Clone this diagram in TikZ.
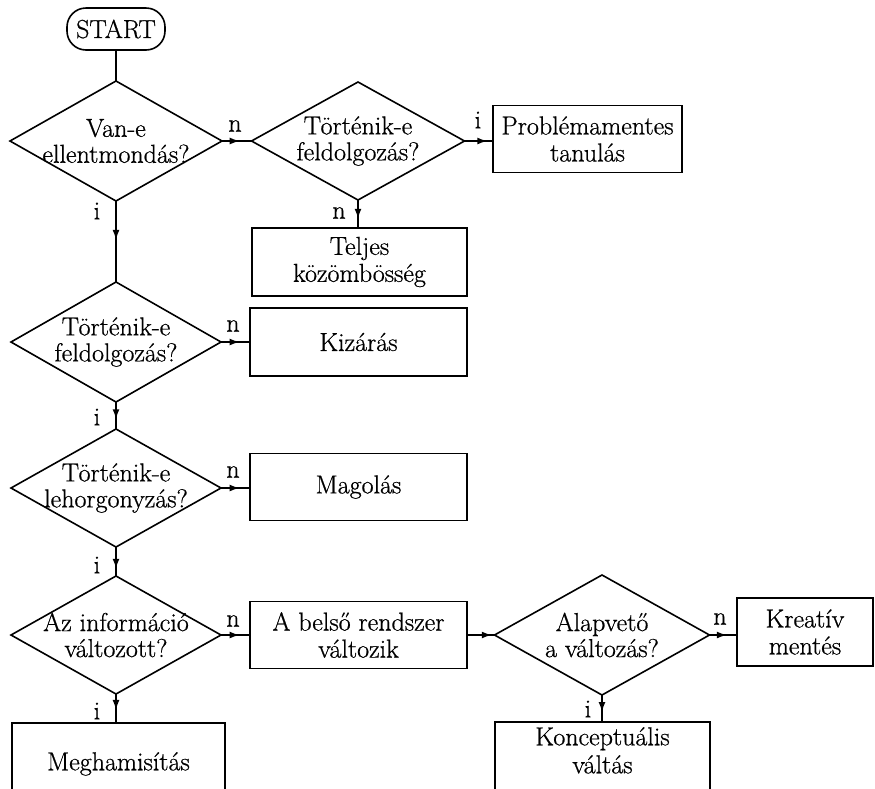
\documentclass[tikz,border=0pt]{standalone}
\usepackage{fontspec}
\setmainfont{Latin Modern Roman}[FakeBold=0.7]
\usetikzlibrary{shapes.geometric,decorations.markings,arrows.meta}
\begin{document}
\begin{tikzpicture}[x=1pt,y=-1pt,
  every node/.style={font=\fontsize{26}{27}\selectfont, text=black},
  dia/.style={draw, line width=1.6pt, diamond, inner sep=0pt, outer sep=0pt},
  box/.style={draw, line width=1.6pt, rectangle, inner sep=0pt, outer sep=0pt, align=center},
  txt/.style={align=center, inner sep=0pt, font=\fontsize{26}{26}\selectfont},
  plain/.style={line width=1.6pt},
  flow/.style={line width=1.6pt, postaction={decorate},
    decoration={markings, mark=at position #1 with {\arrow{Latex[length=10pt,width=7pt]}}}},
  flow/.default=0.65,
  tag/.style={inner sep=0pt}
]
\useasboundingbox (0,0) rectangle (875,788);
\clip (0,0) rectangle (875,788);

% start terminal
\node[draw, line width=1.6pt, rounded corners=19pt, minimum width=98pt, minimum height=42pt, inner sep=0pt] (start) at (116,29) {START};

% decisions
\node[dia, minimum width=212pt, minimum height=120pt, label={[txt]center:Van-e\\ellentmondás?}] (d1) at (116,141) {};
\node[dia, minimum width=213pt, minimum height=118pt, label={[txt]center:Történik-e\\feldolgozás?}] (d2) at (358,141) {};
\node[dia, minimum width=210pt, minimum height=120pt, label={[txt]center:Történik-e\\feldolgozás?}] (d3) at (116,342) {};
\node[dia, minimum width=210pt, minimum height=118pt, label={[txt]center:Történik-e\\lehorgonyzás?}] (d4) at (116,488) {};
\node[dia, minimum width=210pt, minimum height=118pt, label={[txt]center:Az információ\\változott?}] (d5) at (116,635) {};
\node[dia, minimum width=215pt, minimum height=120pt, label={[txt]center:Alapvető\\a változás?}] (d6) at (602,635) {};

% outcomes
\node[box, minimum width=189pt, minimum height=67pt] (probl) at (587.5,139) {Problémamentes\\tanulás};
\node[box, minimum width=215pt, minimum height=68pt] (teljes) at (359.5,262) {Teljes\\közömbösség};
\node[box, minimum width=217pt, minimum height=68pt] (kiz) at (358.5,342) {Kizárás};
\node[box, minimum width=217pt, minimum height=67pt] (mag) at (358.5,487) {Magolás};
\node[box, minimum width=217pt, minimum height=67pt] (bel) at (358.5,635) {A belső rendszer\\változik};
\node[box, minimum width=136pt, minimum height=68pt] (kre) at (805,632) {Kreatív\\mentés};
\node[box, minimum width=213pt, minimum height=90pt, anchor=north,
  label={[txt, anchor=north, yshift=-29pt]north:Meghamisítás}] (megh) at (118.5,723) {};
\node[box, minimum width=215pt, minimum height=90pt, anchor=north,
  label={[txt, anchor=north, yshift=-5pt, font=\fontsize{26}{28}\selectfont]north:Konceptuális\\váltás}] (konc) at (602.5,722) {};

% connectors
\draw[plain] (start) -- (d1.north);
\draw[flow=0.6] (d1.east) -- (d2.west);
\draw[flow=0.8] (d2.east) -- (d2.east -| probl.west);
\draw[flow=0.67] (d2.south) -- (d2.south |- teljes.north);
\draw[flow=0.48] (d1.south) -- (d3.north);
\draw[flow=0.64] (d3.east) -- (kiz.west);
\draw[flow=0.64] (d3.south) -- (d4.north);
\draw[flow=0.64] (d4.east) -- (d4.east -| mag.west);
\draw[flow=0.75] (d4.south) -- (d5.north);
\draw[flow=0.64] (d5.east) -- (bel.west);
\draw[flow=0.55] (d5.south) -- (d5.south |- megh.north);
\draw[flow=0.9] (bel.east) -- (d6.west);
\draw[flow=0.63] (d6.east) -- (d6.east -| kre.west);
\draw[flow=0.63] (d6.south) -- (d6.south |- konc.north);

% branch letters
\node[tag] (l1) at (235,126) {n};
\node[tag] (l2) at (97,211) {i};
\node[tag] (l3) at (478,120) {i};
\node[tag] (l4) at (339,213) {n};
\node[tag] (l5) at (233,326) {n};
\node[tag] (l6) at (97,417) {i};
\node[tag] (l7) at (233,472) {n};
\node[tag] (l8) at (97,565) {i};
\node[tag] (l9) at (233,621) {n};
\node[tag] (l10) at (97,711) {i};
\node[tag] (l11) at (720,619) {n};
\node[tag] (l12) at (588,709) {i};
\end{tikzpicture}
\end{document}
